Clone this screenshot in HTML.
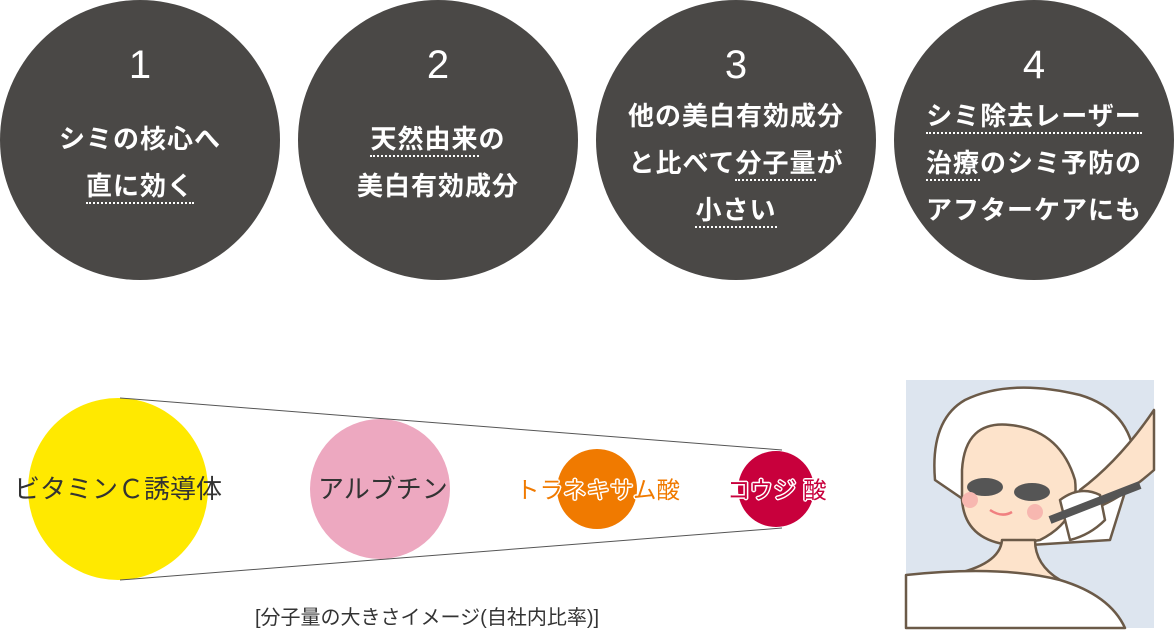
<!DOCTYPE html>
<html><head><meta charset="utf-8"><style>
body{margin:0;width:1174px;height:630px;background:#fff;position:relative;overflow:hidden;font-family:"Liberation Sans","Noto Sans CJK JP",sans-serif;}
.c{position:absolute;top:0;width:280px;height:280px;border-radius:50%;background:#4a4846;color:#fff;text-align:center;}
.n{position:absolute;left:0;right:0;top:40px;font-size:40px;line-height:50px;font-weight:300;}
.t{position:absolute;left:-10px;right:-10px;font-size:26px;font-weight:bold;letter-spacing:1px;line-height:47px;}
.u{border-bottom:2px dotted #fff;padding-bottom:1px;}
.lbl{position:absolute;font-size:26px;line-height:30px;white-space:nowrap;}
.o{text-shadow:-1.5px 0 #fff,1.5px 0 #fff,0 -1.5px #fff,0 1.5px #fff,1px 1px #fff,-1px -1px #fff,1px -1px #fff,-1px 1px #fff;}
</style></head><body>
<div class="c" style="left:0"><div class="n">1</div><div class="t" style="top:116px">シミの核心へ<br><span class="u">直に効く</span></div></div>
<div class="c" style="left:298px"><div class="n">2</div><div class="t" style="top:116px"><span class="u">天然由来</span>の<br>美白有効成分</div></div>
<div class="c" style="left:596px"><div class="n">3</div><div class="t" style="top:93px">他の美白有効成分<br>と比べて<span class="u">分子量</span>が<br><span class="u">小さい</span></div></div>
<div class="c" style="left:894px"><div class="n">4</div><div class="t" style="top:93px"><span class="u">シミ除去レーザー</span><br><span class="u">治療</span>のシミ予防の<br>アフターケアにも</div></div>

<svg style="position:absolute;left:0;top:0" width="1174" height="630">
<ellipse cx="118" cy="489" rx="90" ry="91" fill="#ffe900"/>
<circle cx="380" cy="489" r="70" fill="#eda8c0"/>
<circle cx="597" cy="489" r="40" fill="#f07a00"/>
<circle cx="776" cy="489" r="38" fill="#c8003c"/>
<line x1="120" y1="398" x2="782" y2="450" stroke="#555" stroke-width="1"/>
<line x1="120" y1="580" x2="782" y2="528" stroke="#555" stroke-width="1"/>
<rect x="906" y="380" width="248" height="248" fill="#dde5ef"/>
<g stroke="#6b5a48" stroke-width="2.5" stroke-linejoin="round">
<path d="M935 480 Q930 420 965 400 Q1010 378 1080 395 Q1130 410 1135 460 L1110 540 L1030 545 Z" fill="#fff"/>
<path d="M962 470 Q965 420 1010 425 Q1060 430 1075 480 Q1080 520 1040 540 L1010 545 Q965 540 962 500 Z" fill="#fde3cb"/>
<path d="M1002 540 Q1000 565 950 575 L1060 580 Q1035 565 1035 540 Z" fill="#fde3cb"/>
<path d="M906 575 Q1000 565 1060 580 Q1110 595 1125 628 L906 628 Z" fill="#fff"/>
<path d="M1154 410 L1154 470 Q1120 500 1090 510 L1080 490 Q1120 460 1154 410 Z" fill="#fde3cb"/>
<path d="M1060 500 Q1080 485 1100 495 L1105 520 Q1090 535 1070 540 Z" fill="#fff"/>
</g>
<ellipse cx="985" cy="487" rx="18" ry="9" fill="#555"/>
<ellipse cx="1032" cy="492" rx="18" ry="9" fill="#555"/>
<line x1="1050" y1="520" x2="1140" y2="485" stroke="#555" stroke-width="8"/>
<circle cx="970" cy="500" r="8" fill="#f7b7b0"/>
<circle cx="1035" cy="512" r="8" fill="#f7b7b0"/>
<path d="M990 510 Q1002 518 1012 512" stroke="#f08080" stroke-width="2.5" fill="none"/>
</svg>

<div class="lbl" style="left:14px;top:474px;color:#333">ビタミンＣ誘導体</div>
<div class="lbl" style="left:318px;top:474px;color:#333">アルブチン</div>
<div class="lbl o" style="left:516px;top:475px;color:#f07a00;font-size:23.5px">トラネキサム酸</div>
<div class="lbl o" style="left:727px;top:475px;color:#c8003c;font-size:23.5px">コウジ 酸</div>
<div style="position:absolute;left:255px;top:601px;font-size:20px;color:#333;white-space:nowrap">[分子量の大きさイメージ(自社内比率)]</div>
</body></html>
